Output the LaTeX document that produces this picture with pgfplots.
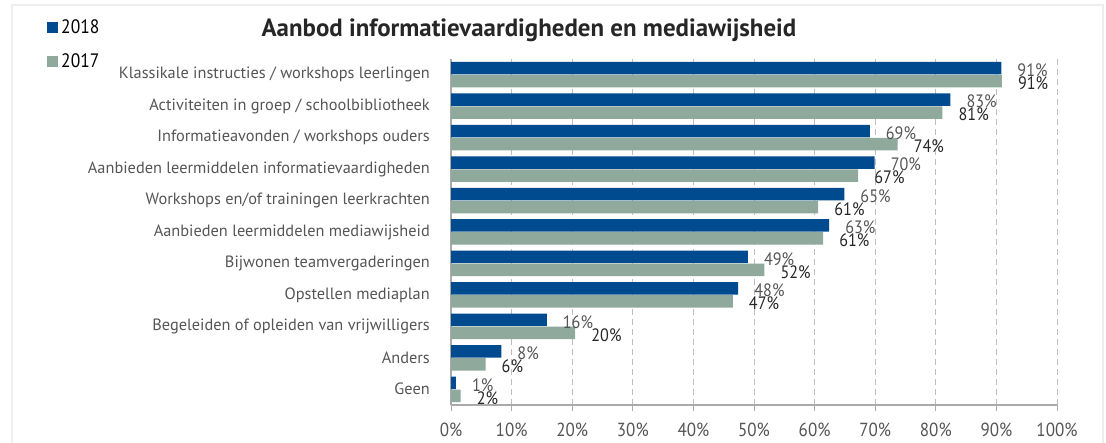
\documentclass[border=0pt]{standalone}
\usepackage{pgfplots}
\usepackage{pgfplotstable}
\usepackage{fontspec}
\pgfplotsset{compat=1.18}
\setmainfont{PT Sans}[FakeStretch=0.9]
\newfontfamily\brede{PT Sans}

\definecolor{blauw}{RGB}{0,74,143}
\definecolor{groen}{RGB}{143,169,156}
\definecolor{rooster}{RGB}{190,190,190}
\definecolor{asgrijs}{RGB}{170,170,170}
\definecolor{labelgrijs}{RGB}{85,85,85}
\definecolor{kader}{RGB}{238,238,238}

% idx 10 = bovenste categorie
\pgfplotstableread{
idx v18  l18 v17  l17
10  90.8 91  90.9 91
9   82.4 83  81.1 81
8   69.1 69  73.7 74
7   69.9 70  67.2 67
6   64.9 65  60.6 61
5   62.4 63  61.4 61
4   49.0 49  51.7 52
3   47.4 48  46.5 47
2   15.8 16  20.5 20
1   8.3  8   5.7  6
0   0.8  1   1.6  2
}\aanbod

\begin{document}
\begin{tikzpicture}
\useasboundingbox (0,0) rectangle (1106bp,443bp);
\draw[kader, line width=2bp] (11.5bp,0) -- (11.5bp,437.5bp) -- (1103bp,437.5bp) -- (1103bp,0);

\begin{axis}[
  at={(451bp,38bp)}, anchor=south west,
  scale only axis,
  width=606bp, height=346bp,
  xbar,
  bar width=12.5bp,
  xmin=0, xmax=100,
  ymin=-0.5, ymax=10.5,
  axis x line=bottom,
  axis y line=left,
  axis line style={-, draw=asgrijs, line width=1.2bp},
  xtick={0,10,...,100},
  xticklabel={\pgfmathparse{int(\tick)}\pgfmathresult\%},
  xticklabel style={font=\fontsize{19}{19}\selectfont, text=labelgrijs, inner sep=0pt, yshift=-12bp},
  x tick style={draw=asgrijs, line width=1bp},
  tick align=outside,
  major tick length=6bp,
  xmajorgrids,
  grid style={draw=rooster, dashed, dash pattern=on 6bp off 4bp, line width=0.9bp},
  ytick={0,...,10},
  yticklabels={Geen, Anders, Begeleiden of opleiden van vrijwilligers, Opstellen mediaplan,
    Bijwonen teamvergaderingen, Aanbieden leermiddelen mediawijsheid,
    Workshops en/of trainingen leerkrachten, Aanbieden leermiddelen informatievaardigheden,
    Informatieavonden / workshops ouders, Activiteiten in groep / schoolbibliotheek,
    Klassikale instructies / workshops leerlingen},
  yticklabel style={font=\brede\fontsize{16.4}{16.4}\selectfont, text=labelgrijs, inner sep=0pt, xshift=-15bp},
  y tick style={draw=none},
  nodes near coords={\pgfplotspointmeta\%},
  every node near coord/.append style={anchor=west, inner sep=0pt, xshift=16bp, yshift=-2bp,
    font=\fontsize{18}{18}\selectfont},
  legend style={at={(rel axis cs:-0.667,1.108)}, anchor=north west, draw=none, fill=none,
    inner sep=0pt, row sep=22bp, font=\fontsize{19.5}{19.5}\selectfont,
    nodes={inner sep=0pt, text height=12bp, text depth=0pt}},
  legend cell align=left,
  legend image code/.code={\fill[#1] (0bp,-5.5bp) rectangle (11bp,5.5bp);},
  clip=false,
]
\addplot[fill=blauw, draw=none, bar shift=6.5bp, point meta=explicit symbolic,
  every node near coord/.append style={text=labelgrijs}]
  table[x=v18, y=idx, meta=l18] {\aanbod};
\addplot[fill=groen, draw=none, bar shift=-6.5bp, point meta=explicit symbolic,
  every node near coord/.append style={text=black!85}]
  table[x=v17, y=idx, meta=l17] {\aanbod};
\legend{\,2018, \,2017}
\end{axis}

\node[font=\brede\bfseries\fontsize{25}{25}\selectfont, text=black!85] at (529bp,413bp)
  {Aanbod informatievaardigheden en mediawijsheid};
\end{tikzpicture}
\end{document}
